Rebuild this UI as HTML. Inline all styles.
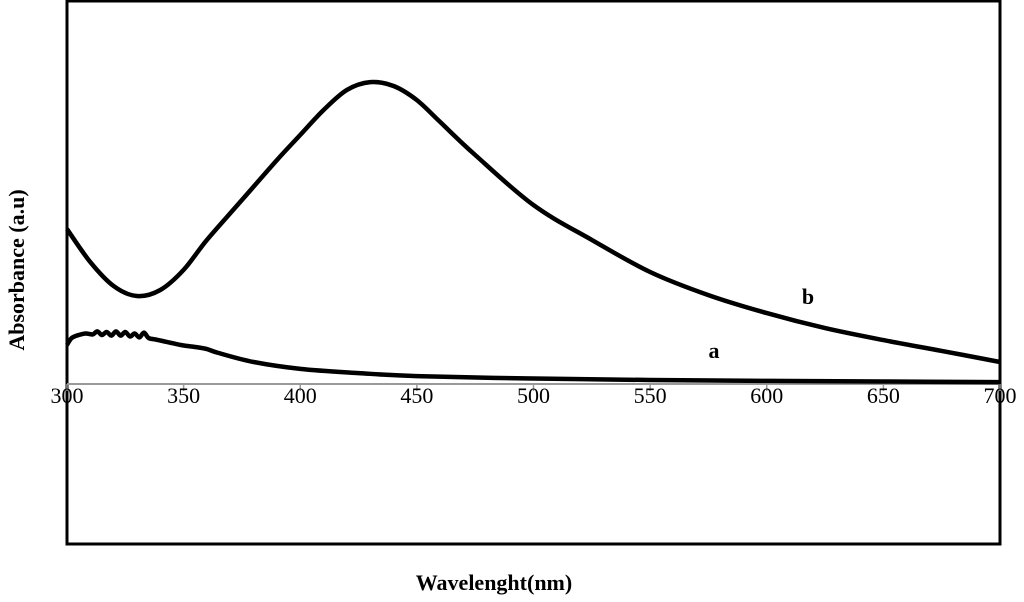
<!DOCTYPE html>
<html><head><meta charset="utf-8"><style>
body{margin:0;background:#fff;}
svg{display:block;font-family:"Liberation Serif",serif;}
</style></head><body>
<svg id="chart" width="1024" height="602">
<rect x="67" y="1" width="933" height="543" fill="none" stroke="#000" stroke-width="3"/>
<g id="axis"></g>
<g id="series"></g>
<text x="808" y="304" font-size="22" font-weight="bold" text-anchor="middle">b</text>
<text x="714" y="358" font-size="22" font-weight="bold" text-anchor="middle">a</text>
<text x="494" y="590" font-size="22" font-weight="bold" text-anchor="middle">Wavelenght(nm)</text>
<text transform="translate(24,270) rotate(-90)" font-size="22" font-weight="bold" text-anchor="middle">Absorbance (a.u)</text>
</svg>
<script>
const xTicks=[300,350,400,450,500,550,600,650,700];
const bWl=[300,310,320,330,340,350,360,375,390,400,410,420,430,440,450,460,475,500,525,550,575,600,625,650,675,700];
const bAbs=[0.513,0.403,0.323,0.29,0.31,0.377,0.477,0.61,0.743,0.827,0.91,0.977,1.003,0.99,0.943,0.87,0.76,0.593,0.477,0.37,0.293,0.233,0.183,0.143,0.107,0.07];
const aWl=[300,302,305,308,311,313,315,317,319,321,323,325,327,329,331,333,335,338,341,345,350,355,360,365,380,400,425,450,500,550,600,650,700];
const aAbs=[0.127,0.15,0.16,0.165,0.162,0.172,0.16,0.17,0.158,0.172,0.158,0.17,0.155,0.165,0.152,0.168,0.15,0.145,0.14,0.133,0.125,0.12,0.113,0.1,0.07,0.047,0.033,0.023,0.015,0.01,0.007,0.005,0.003];
const NS='http://www.w3.org/2000/svg';
const x=w=>67+(w-300)*(933/400);
const y=a=>383-a*300;
const ax=document.getElementById('axis');
const base=document.createElementNS(NS,'line');
base.setAttribute('x1',67);base.setAttribute('x2',1000);base.setAttribute('y1',384);base.setAttribute('y2',384);
base.setAttribute('stroke','#999');base.setAttribute('stroke-width','2');


ax.appendChild(base);
xTicks.forEach(t=>{
 const l=document.createElementNS(NS,'line');
 l.setAttribute('x1',x(t));l.setAttribute('x2',x(t));l.setAttribute('y1',384);l.setAttribute('y2',391);
 l.setAttribute('stroke','#999');l.setAttribute('stroke-width','1.5');
 
 
 ax.appendChild(l);
 const tx=document.createElementNS(NS,'text');
 tx.setAttribute('x',x(t));tx.setAttribute('y',403);tx.setAttribute('font-size','22');tx.setAttribute('text-anchor','middle');
 tx.textContent=t;
 
 
 ax.appendChild(tx);
});
const sg=document.getElementById('series');
function path(ws,as,name){
 const P=ws.map((w,i)=>[x(w),y(as[i])]);
 let d='M'+P[0][0].toFixed(1)+','+P[0][1].toFixed(1);
 for(let i=0;i<P.length-1;i++){
  const p0=P[Math.max(i-1,0)],p1=P[i],p2=P[i+1],p3=P[Math.min(i+2,P.length-1)];
  const c1=[p1[0]+(p2[0]-p0[0])/6,p1[1]+(p2[1]-p0[1])/6];
  const c2=[p2[0]-(p3[0]-p1[0])/6,p2[1]-(p3[1]-p1[1])/6];
  d+='C'+c1.map(v=>v.toFixed(1))+' '+c2.map(v=>v.toFixed(1))+' '+p2.map(v=>v.toFixed(1));
 }
 const p=document.createElementNS(NS,'path');
 p.setAttribute('d',d);
 p.setAttribute('fill','none');p.setAttribute('stroke','#000');p.setAttribute('stroke-width','4.5');p.setAttribute('stroke-linejoin','round');
 
 
 sg.appendChild(p);
}
path(bWl,bAbs,'series-b-line');
path(aWl,aAbs,'series-a-line');
</script>
</body></html>
